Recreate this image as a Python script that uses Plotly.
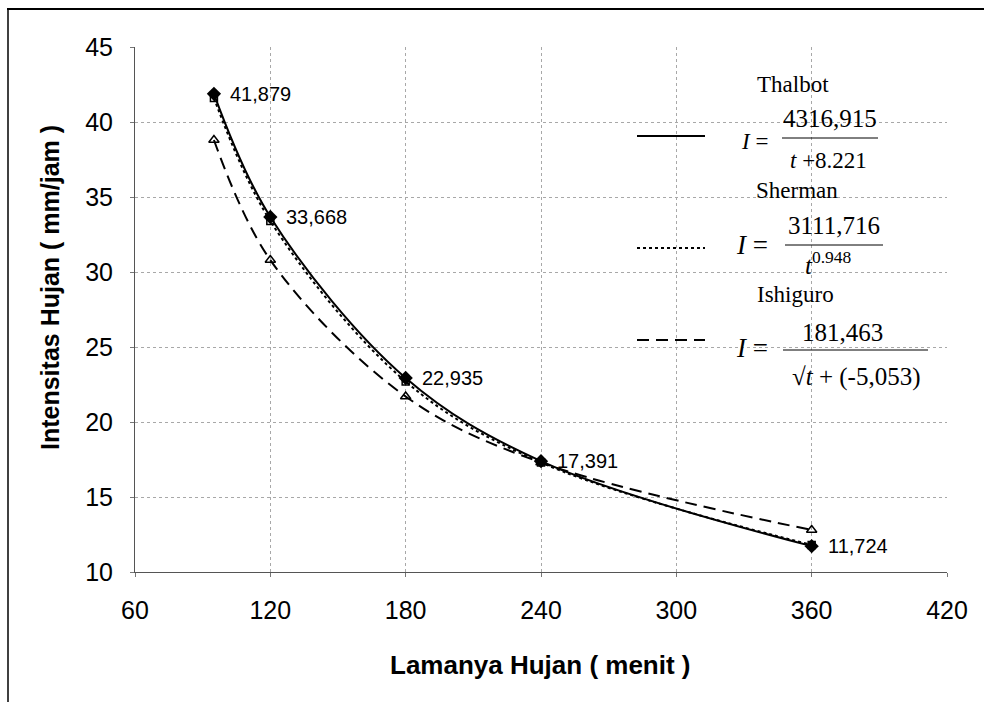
import plotly.graph_objects as go

# Rain duration (minutes) and intensity (mm/jam) for the three IDF formulas
durasi = [95, 120, 180, 240, 360]
thalbot = [41.879, 33.668, 22.935, 17.391, 11.724]
sherman = [41.6, 33.4, 22.7, 17.3, 11.8]
ishiguro = [38.8, 30.8, 21.7, 17.3, 12.8]

x_ticks = [60, 120, 180, 240, 300, 360, 420]
y_ticks = [10, 15, 20, 25, 30, 35, 40, 45]

W, H = 984, 702
L, R, T, B = 135, 37, 47, 130
PW, PH = W - L - R, H - T - B


def px(x):
    return (x - L) / PW


def py(y):
    return (H - B - y) / PH


fig = go.Figure()

fig.add_trace(go.Scatter(
    x=durasi, y=ishiguro, mode="lines+markers", name="Ishiguro",
    line=dict(color="black", width=2, dash="12px,7px", shape="spline"),
    marker=dict(symbol="triangle-up-open", size=9, color="black",
                line=dict(width=1.5, color="black")),
))
fig.add_trace(go.Scatter(
    x=durasi, y=sherman, mode="lines+markers", name="Sherman",
    line=dict(color="black", width=2, dash="dot", shape="spline"),
    marker=dict(symbol="square-open", size=7, color="black",
                line=dict(width=1.5, color="black")),
))
fig.add_trace(go.Scatter(
    x=durasi, y=thalbot, mode="lines+markers", name="Thalbot",
    line=dict(color="black", width=2, shape="spline"),
    marker=dict(symbol="diamond", size=11, color="black"),
))

annotations = []
# value labels on the Thalbot points
for xv, yv in zip(durasi, thalbot):
    annotations.append(dict(
        x=xv, y=yv, xref="x", yref="y", text=f"{yv:.3f}".replace(".", ","),
        showarrow=False, xanchor="left", yanchor="middle", xshift=14,
        font=dict(family="Liberation Sans, Arial", size=20, color="black"),
    ))

# axis titles
annotations.append(dict(
    x=px(540), y=py(665), xref="paper", yref="paper",
    xanchor="center", yanchor="middle",
    text="<b>Lamanya Hujan ( menit )</b>", showarrow=False,
    font=dict(family="Liberation Sans, Arial", size=26, color="black"),
))
annotations.append(dict(
    x=px(50), y=py(288), xref="paper", yref="paper", textangle=-90,
    xanchor="center", yanchor="middle",
    text="<b>Intensitas Hujan ( mm/jam )</b>", showarrow=False,
    font=dict(family="Liberation Sans, Arial", size=25, color="black"),
))

serif = "Liberation Serif, Times New Roman, serif"


def txt(x, y, s, size=23):
    annotations.append(dict(
        x=px(x), y=py(y), xref="paper", yref="paper", text=s, showarrow=False,
        xanchor="center", yanchor="middle",
        font=dict(family=serif, size=size, color="black"),
    ))


shapes = []


def hline(x0, x1, y, dash="solid", width=2):
    shapes.append(dict(
        type="line", xref="paper", yref="paper",
        x0=px(x0), x1=px(x1), y0=py(y), y1=py(y),
        line=dict(color="black", width=width, dash=dash),
    ))


# legend block with the fitted formulas
txt(793, 84, "Thalbot")
hline(637, 705, 136)
txt(754, 141, "<i>I</i> =", 23)
txt(830, 119, "4316,915", 25)
hline(782, 878, 138, width=1)
txt(828, 160, "<i>t</i> +8.221", 23)

txt(797, 190, "Sherman")
hline(637, 705, 248, dash="dot")
txt(752, 245, "<i>I</i> =", 27)
txt(834, 225, "3111,716", 25)
hline(785, 883, 245, width=1)
txt(828, 263, "<i>t</i><sup>0.948</sup>", 25)

txt(795, 294, "Ishiguro")
hline(637, 705, 340, dash="12px,7px")
txt(752, 348, "<i>I</i> =", 27)
txt(842, 332, "181,463", 25)
hline(783, 928, 350, width=1)
txt(856, 377, "√<i>t</i> + (-5,053)", 25)

# page frame
shapes.append(dict(type="line", xref="paper", yref="paper",
                   x0=px(7), x1=px(984), y0=py(9), y1=py(9),
                   line=dict(color="black", width=2)))
shapes.append(dict(type="line", xref="paper", yref="paper",
                   x0=px(8), x1=px(8), y0=py(9), y1=py(702),
                   line=dict(color="black", width=1.5)))

axis_font = dict(family="Liberation Sans, Arial", size=25, color="black")
fig.update_layout(
    width=W, height=H,
    margin=dict(l=L, r=R, t=T, b=B),
    paper_bgcolor="white", plot_bgcolor="white",
    showlegend=False,
    annotations=annotations,
    shapes=shapes,
    xaxis=dict(
        range=[60, 420], tickvals=x_ticks, tickfont=axis_font,
        showgrid=True, gridcolor="#a8a8a8", griddash="dot", gridwidth=1,
        showline=True, linecolor="#555", linewidth=1,
        ticks="outside", ticklen=4, tickcolor="#777",
        ticklabelstandoff=12, zeroline=False,
    ),
    yaxis=dict(
        range=[10, 45], tickvals=y_ticks, tickfont=axis_font,
        showgrid=True, gridcolor="#a8a8a8", griddash="dot", gridwidth=1,
        showline=True, linecolor="#555", linewidth=1,
        ticks="outside", ticklen=4, tickcolor="#777",
        ticklabelstandoff=12, zeroline=False,
    ),
)

fig.write_html("out.html")
